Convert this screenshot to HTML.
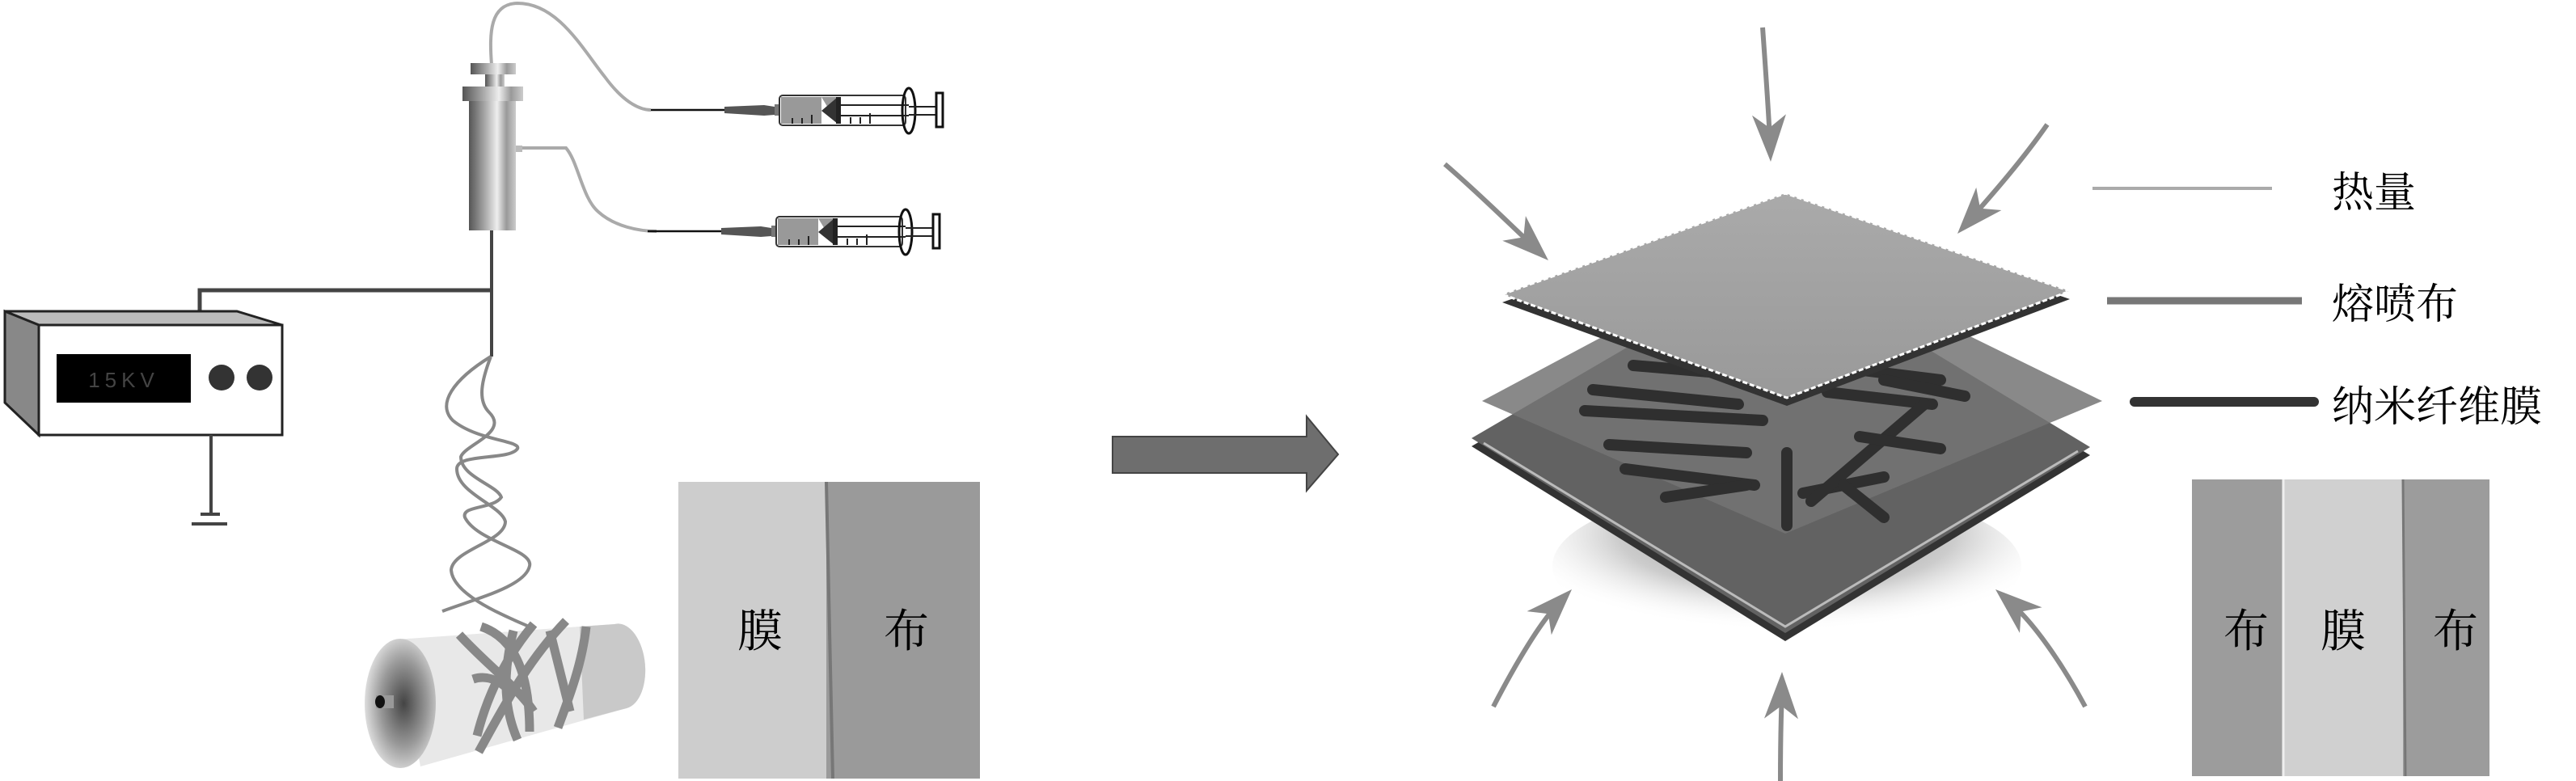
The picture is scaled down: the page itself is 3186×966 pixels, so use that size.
<!DOCTYPE html>
<html><head><meta charset="utf-8"><style>
html,body{margin:0;padding:0;background:#fff;}
svg{display:block;}
text{font-family:"Liberation Serif","Noto Serif CJK SC","Noto Sans CJK SC",serif;}
</style></head><body>
<svg width="3186" height="966" viewBox="0 0 3186 966" xmlns="http://www.w3.org/2000/svg">
<defs>
<linearGradient id="cyl" x1="0" x2="1" y1="0" y2="0">
<stop offset="0" stop-color="#555"/><stop offset="0.35" stop-color="#aaa"/><stop offset="0.6" stop-color="#eee"/><stop offset="0.8" stop-color="#999"/><stop offset="1" stop-color="#ccc"/></linearGradient>
<radialGradient id="endc" cx="0.55" cy="0.5" r="0.55"><stop offset="0" stop-color="#444"/><stop offset="0.6" stop-color="#999"/><stop offset="1" stop-color="#ddd"/></radialGradient>
<radialGradient id="shadow" cx="0.5" cy="0.3" r="0.6"><stop offset="0" stop-color="#888"/><stop offset="0.6" stop-color="#ccc"/><stop offset="1" stop-color="#fff" stop-opacity="0"/></radialGradient>
<linearGradient id="topp" x1="0" y1="0" x2="0" y2="1"><stop offset="0" stop-color="#aaa"/><stop offset="1" stop-color="#999"/></linearGradient>
</defs>

<!-- tubes -->
<path d="M608,80 C605,40 606,5 640,4 C690,4 720,60 748,95 C770,125 790,136 805,136" fill="none" stroke="#aaa" stroke-width="4"/>
<path d="M638,183 L700,183 C715,200 720,245 740,262 C760,280 790,286 812,286" fill="none" stroke="#aaa" stroke-width="4"/>
<!-- syringes -->
<g id="syr">
<line x1="805" y1="136" x2="896" y2="136" stroke="#111" stroke-width="2.5"/>
<path d="M896,132 L945,130 L958,132 L958,142 L945,143 L896,140 Z" fill="#555"/>
<rect x="958" y="129" width="6" height="14" fill="#777"/>
<rect x="964" y="118" width="156" height="37" rx="4" fill="#fff" stroke="#333" stroke-width="2"/>
<path d="M966,120 L1016,120 L1016,153 L966,153 Z" fill="#999"/>
<path d="M1016,120 L1036,120 L1036,153 Z" fill="#999"/>
<path d="M1036,120 L1036,153 L1016,137 Z" fill="#333"/>
<rect x="1034" y="120" width="6" height="33" fill="#222"/>
<line x1="1040" y1="130" x2="1124" y2="130" stroke="#222" stroke-width="2"/>
<line x1="1040" y1="143" x2="1124" y2="143" stroke="#222" stroke-width="2"/>
<g stroke="#222" stroke-width="2"><line x1="980" y1="146" x2="980" y2="153"/><line x1="992" y1="146" x2="992" y2="153"/><line x1="1004" y1="142" x2="1004" y2="153"/><line x1="1052" y1="145" x2="1052" y2="153"/><line x1="1064" y1="145" x2="1064" y2="153"/><line x1="1076" y1="140" x2="1076" y2="153"/></g>
<ellipse cx="1124" cy="137" rx="8" ry="28" fill="none" stroke="#111" stroke-width="3"/>
<line x1="1124" y1="132" x2="1158" y2="132" stroke="#222" stroke-width="2"/>
<line x1="1124" y1="142" x2="1158" y2="142" stroke="#222" stroke-width="2"/>
<rect x="1158" y="115" width="8" height="42" fill="#fff" stroke="#111" stroke-width="3"/>
</g>
<use href="#syr" transform="translate(-4,150)"/>

<!-- pump cylinder -->
<rect x="582" y="78" width="56" height="14" fill="url(#cyl)"/>
<rect x="600" y="92" width="24" height="15" fill="url(#cyl)"/>
<rect x="572" y="107" width="75" height="18" fill="url(#cyl)"/>
<rect x="580" y="125" width="58" height="160" fill="url(#cyl)"/>
<rect x="638" y="180" width="8" height="8" fill="#bbb"/>

<!-- wires -->
<polyline points="608,285 608,441" fill="none" stroke="#444" stroke-width="4"/>
<polyline points="608,359 247,359 247,385" fill="none" stroke="#444" stroke-width="5"/>

<!-- HV box -->
<polygon points="6,385 293,385 349,402 48,402" fill="#bbb" stroke="#222" stroke-width="3"/>
<polygon points="6,385 48,402 48,538 6,498" fill="#888" stroke="#222" stroke-width="3"/>
<rect x="48" y="402" width="301" height="136" fill="#fff" stroke="#222" stroke-width="3"/>
<rect x="70" y="438" width="166" height="60" fill="#000"/>
<text x="153" y="479" font-size="26" fill="#444" text-anchor="middle" letter-spacing="6" style="font-family:'Liberation Sans',sans-serif">15KV</text>
<circle cx="274" cy="467" r="16" fill="#333"/>
<circle cx="321" cy="467" r="16" fill="#333"/>
<line x1="261" y1="538" x2="261" y2="636" stroke="#444" stroke-width="4"/>
<line x1="248" y1="636" x2="272" y2="636" stroke="#444" stroke-width="4"/>
<line x1="237" y1="648" x2="281" y2="648" stroke="#444" stroke-width="4"/>

<!-- helix -->
<path d="M607,441 C560,470 540,500 560,520 C590,545 645,545 640,555 C630,570 565,560 565,580 C565,610 620,625 625,645 C625,670 560,680 558,705 C560,735 620,760 652,774" fill="none" stroke="#888" stroke-width="4"/>
<path d="M607,441 C596,470 590,495 605,510 C630,535 575,550 570,565 C570,590 615,600 620,615 C610,630 570,625 575,640 C590,670 660,680 655,700 C650,725 590,740 547,756" fill="none" stroke="#888" stroke-width="4"/>

<!-- collector -->
<path d="M490,791 L760,772 A30,52 -5 0 1 775,876 L520,948 Z" fill="#e8e8e8"/>
<path d="M717,775 L760,772 A30,52 -5 0 1 775,876 L722,890 Z" fill="#c9c9c9"/>
<ellipse cx="495" cy="870" rx="44" ry="80" fill="url(#endc)"/>
<rect x="465" y="860" width="22" height="16" fill="#999"/>
<ellipse cx="470" cy="868" rx="6" ry="8" fill="#111"/>
<g fill="none" stroke="#888" stroke-width="11" stroke-linecap="butt">
<path d="M568,785 C600,820 640,850 660,880"/>
<path d="M595,775 C640,790 655,840 655,905"/>
<path d="M660,772 C620,820 600,870 590,910"/>
<path d="M700,768 C650,820 620,880 592,930"/>
<path d="M725,775 C720,820 705,860 690,900"/>
<path d="M635,780 C620,840 625,880 640,915"/>
<path d="M680,780 C690,820 700,860 705,880"/>
<path d="M585,840 C600,835 615,840 628,852"/>
</g>

<!-- SEM 1 -->
<rect x="839" y="596" width="183" height="367" fill="#cdcdcd"/>
<rect x="1022" y="596" width="190" height="367" fill="#9a9a9a"/>
<line x1="1022" y1="596" x2="1030" y2="963" stroke="#777" stroke-width="4"/>
<text x="940" y="800" font-size="56" text-anchor="middle" fill="#000">膜</text>
<text x="1121" y="800" font-size="56" text-anchor="middle" fill="#000">布</text>

<!-- big arrow -->
<polygon points="1376,540 1616,540 1616,515 1655,562 1616,607 1616,585 1376,585" fill="#6e6e6e" stroke="#444" stroke-width="2"/>

<!-- right: shadow -->
<ellipse cx="2210" cy="700" rx="290" ry="100" fill="url(#shadow)"/>
<!-- lower plate -->
<polygon points="1820,552 2200,330 2585,563 2208,793" fill="#333"/>
<polygon points="1820,542 2200,320 2585,553 2208,783" fill="#626262"/>
<polyline points="1835,548 2208,775 2570,558" fill="none" stroke="#bbb" stroke-width="3"/>
<!-- middle plate -->
<polygon points="1833,496 2200,300 2600,496 2208,660" fill="#747474" opacity="0.85"/>
<!-- fibers -->
<g stroke="#2f2f2f" stroke-width="14" stroke-linecap="round" fill="none">
<line x1="2020" y1="452" x2="2230" y2="470"/>
<line x1="2280" y1="455" x2="2400" y2="470"/>
<line x1="1970" y1="482" x2="2150" y2="500"/>
<line x1="2260" y1="485" x2="2390" y2="500"/>
<line x1="1960" y1="508" x2="2180" y2="520"/>
<line x1="1990" y1="550" x2="2160" y2="560"/>
<line x1="2010" y1="580" x2="2170" y2="600"/>
<line x1="2060" y1="615" x2="2160" y2="600"/>
<line x1="2230" y1="610" x2="2330" y2="590"/>
<line x1="2210" y1="650" x2="2210" y2="560"/>
<line x1="2240" y1="620" x2="2380" y2="500"/>
<line x1="2300" y1="540" x2="2400" y2="555"/>
<line x1="2280" y1="600" x2="2330" y2="640"/>
<line x1="2330" y1="470" x2="2430" y2="490"/>
</g>
<!-- top plate -->
<polygon points="1858,374 2208,249 2560,370 2210,502" fill="#333"/>
<polygon points="1858,364 2208,239 2560,360 2210,492" fill="url(#topp)"/>
<polygon points="1858,364 2208,239 2560,360 2210,492" fill="none" stroke="#fff" stroke-width="3" stroke-dasharray="6,3"/>

<!-- heat arrows -->
<g fill="none" stroke="#8a8a8a" stroke-width="6">
<path d="M2180,34 C2184,90 2188,150 2189,175"/>
<path d="M1787,203 C1830,240 1870,280 1897,305"/>
<path d="M2532,154 C2500,200 2460,245 2438,270"/>
<path d="M1847,874 C1875,820 1905,770 1927,747"/>
<path d="M2579,874 C2550,820 2515,770 2487,746"/>
<path d="M2202,966 C2202,920 2203,880 2204,856"/>
</g>
<g fill="#8a8a8a">
<polygon points="0,0 -58,-21 -42,0 -58,21" transform="translate(2190,200) rotate(88)"/>
<polygon points="0,0 -58,-21 -42,0 -58,21" transform="translate(1915,322) rotate(43)"/>
<polygon points="0,0 -58,-21 -42,0 -58,21" transform="translate(2421,289) rotate(132)"/>
<polygon points="0,0 -58,-21 -42,0 -58,21" transform="translate(1944,729) rotate(-46)"/>
<polygon points="0,0 -58,-21 -42,0 -58,21" transform="translate(2468,729) rotate(-139)"/>
<polygon points="0,0 -58,-21 -42,0 -58,21" transform="translate(2204,831) rotate(-89)"/>
</g>

<!-- legend -->
<line x1="2588" y1="233" x2="2810" y2="233" stroke="#aaa" stroke-width="4"/>
<line x1="2606" y1="372" x2="2847" y2="372" stroke="#777" stroke-width="9"/>
<line x1="2640" y1="497" x2="2862" y2="497" stroke="#333" stroke-width="12" stroke-linecap="round"/>
<text x="2884" y="256" font-size="52" fill="#000">热量</text>
<text x="2884" y="394" font-size="52" fill="#000">熔喷布</text>
<text x="2884" y="521" font-size="52" fill="#000">纳米纤维膜</text>

<!-- SEM 2 -->
<rect x="2711" y="593" width="113" height="367" fill="#9c9c9c"/>
<rect x="2824" y="593" width="148" height="367" fill="#d0d0d0"/>
<rect x="2972" y="593" width="107" height="367" fill="#9c9c9c"/>
<line x1="2824" y1="593" x2="2824" y2="960" stroke="#eee" stroke-width="3"/>
<line x1="2972" y1="593" x2="2975" y2="960" stroke="#777" stroke-width="3"/>
<text x="2778" y="800" font-size="56" text-anchor="middle" fill="#000">布</text>
<text x="2898" y="800" font-size="56" text-anchor="middle" fill="#000">膜</text>
<text x="3037" y="800" font-size="56" text-anchor="middle" fill="#000">布</text>
</svg>
</body></html>
